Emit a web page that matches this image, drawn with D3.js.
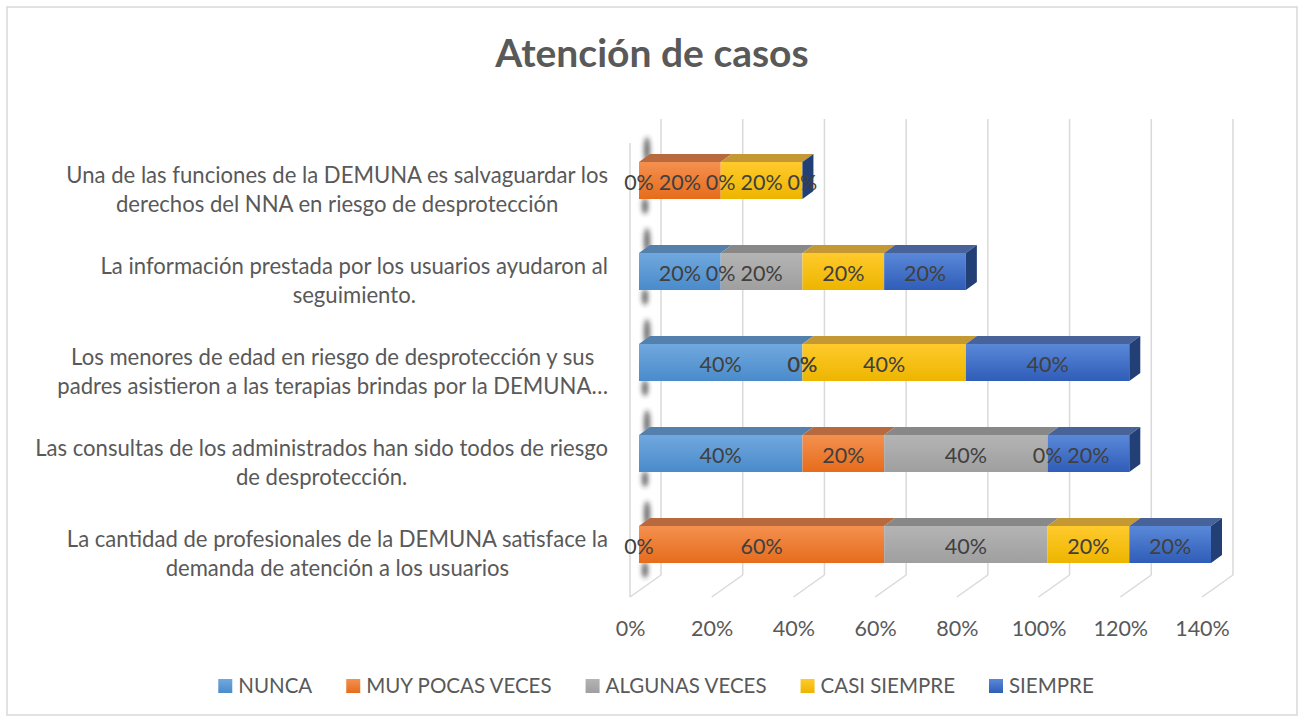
<!DOCTYPE html>
<html>
<head>
<meta charset="utf-8">
<script src="https://cdn.jsdelivr.net/npm/d3@7"></script>
<style>
  html, body { margin: 0; padding: 0; background: #fff; }
  svg { display: block; }
  text { font-family: Lato, "Open Sans", sans-serif; }
</style>
</head>
<body>
<svg id="chart" width="1303" height="719"></svg>
<script>
// ---------------- data ----------------
const title = "Atención de casos";
const categories = [
  ["Una de las funciones de la DEMUNA es salvaguardar los", "derechos del NNA en riesgo de desprotección"],
  ["La información prestada por los usuarios ayudaron al", "seguimiento."],
  ["Los menores de edad en riesgo de desprotección y sus", "padres asistieron a las terapias brindas por la DEMUNA…"],
  ["Las consultas de los administrados han sido todos de riesgo", "de desprotección."],
  ["La cantidad de profesionales de la DEMUNA satisface la", "demanda de atención a los usuarios"]
];
const seriesNames = ["NUNCA", "MUY POCAS VECES", "ALGUNAS VECES", "CASI SIEMPRE", "SIEMPRE"];
const nunca     = [0.0, 0.2, 0.4, 0.4, 0.0];
const muyPocas  = [0.2, 0.0, 0.0, 0.2, 0.6];
const algunas   = [0.0, 0.2, 0.0, 0.4, 0.4];
const casi      = [0.2, 0.2, 0.4, 0.0, 0.2];
const siempre   = [0.0, 0.2, 0.4, 0.2, 0.2];
const xTicks = [0, 0.2, 0.4, 0.6, 0.8, 1.0, 1.2, 1.4];

// ---------------- styles ----------------
const frontTop    = ["#70A8DE", "#F4904F", "#B4B4B4", "#FFCA2C", "#5A88D8"];
const frontBottom = ["#4A8BCB", "#E66C1C", "#9F9F9F", "#EDB500", "#2F5DB8"];
const topColor    = ["#5380AC", "#B8693E", "#888888", "#C49933", "#476399"];
const sideColor   = "#223F76";
const textGray = "#595959";
const labelGray = "#404040";
const gridColor = "#D9D9D9";

const svg = d3.select("#chart");
const defs = svg.append("defs");
seriesNames.forEach((s, i) => {
  const g = defs.append("linearGradient").attr("id", "grad" + i)
    .attr("x1", 0).attr("y1", 0).attr("x2", 0).attr("y2", 1);
  g.append("stop").attr("offset", "0%").attr("stop-color", frontTop[i]);
  g.append("stop").attr("offset", "100%").attr("stop-color", frontBottom[i]);
});
const blur = defs.append("filter").attr("id", "blur")
  .attr("x", "-100%").attr("y", "-50%").attr("width", "300%").attr("height", "200%");
blur.append("feGaussianBlur").attr("stdDeviation", 2.4);

// outer border
svg.append("rect").attr("x", 7).attr("y", 7).attr("width", 1290).attr("height", 708)
  .attr("fill", "#fff").attr("stroke", gridColor).attr("stroke-width", 1.5);

// title
svg.append("text").attr("x", 652).attr("y", 67).attr("text-anchor", "middle")
  .attr("font-size", 39).attr("font-weight", 700).attr("fill", textGray).text(title);

// ---------------- scales ----------------
const x = d3.scaleLinear().domain([0, 1.4]).range([630, 1202]);   // front floor plane
const backDX = 31, backDY = -22;      // wall depth offset
const barDX = 9;                      // front face of bars relative to front plane
const depthDX = 11, depthDY = -8;     // bar depth
const floorFrontY = 597, floorBackY = 575, wallTopY = 119, leftWallTopY = 143;

const y = d3.scaleBand().domain(d3.range(categories.length))
  .range([108, 617]).paddingInner(0.5934).paddingOuter(0.5934);

// ---------------- walls / grid ----------------
const grid = svg.append("g").attr("stroke", gridColor).attr("stroke-width", 1.5).attr("fill", "none");
grid.selectAll("line.back").data(xTicks).join("line").attr("class", "back")
  .attr("x1", d => x(d) + backDX).attr("x2", d => x(d) + backDX)
  .attr("y1", wallTopY).attr("y2", floorBackY);
grid.selectAll("line.floor").data(xTicks).join("line").attr("class", "floor")
  .attr("x1", d => x(d)).attr("y1", floorFrontY)
  .attr("x2", d => x(d) + backDX).attr("y2", floorBackY);
grid.append("line").attr("x1", x(0)).attr("x2", x(0)).attr("y1", leftWallTopY).attr("y2", floorFrontY);

// x axis labels
const axis = d3.axisBottom(x).tickValues(xTicks).tickFormat(d3.format(".0%")).tickSize(0);
const axG = svg.append("g").attr("transform", `translate(0,${636})`).call(axis);
axG.select(".domain").remove();
axG.selectAll("text").attr("y", 0).attr("dy", 0)
  .attr("font-family", "Lato, sans-serif").attr("font-size", 21.5).attr("fill", textGray);

// ---------------- bars ----------------
const table = categories.map((c, i) => ({
  idx: i, values: [nunca[i], muyPocas[i], algunas[i], casi[i], siempre[i]]
}));
const stack = d3.stack().keys(d3.range(5)).value((d, k) => d.values[k]);
const stacked = stack(table);

const bars = svg.append("g");
// shadow smudges near the left end
table.forEach(d => {
  const top = y(d.idx), bot = top + y.bandwidth();
  bars.append("ellipse").attr("cx", x(0) + barDX + 8).attr("cy", top - 12).attr("rx", 3).attr("ry", 13)
    .attr("fill", "#222").attr("opacity", 0.7).attr("filter", "url(#blur)");
  bars.append("ellipse").attr("cx", x(0) + barDX + 6).attr("cy", bot + 7).attr("rx", 3).attr("ry", 8)
    .attr("fill", "#222").attr("opacity", 0.7).attr("filter", "url(#blur)");
});

stacked.forEach((layer, si) => {
  layer.forEach((seg, ri) => {
    const x0 = x(seg[0]) + barDX, x1 = x(seg[1]) + barDX;
    const top = y(ri), bot = top + y.bandwidth();
    if (x1 > x0) {
      bars.append("rect").attr("x", x0).attr("y", top).attr("width", x1 - x0).attr("height", bot - top)
        .attr("fill", `url(#grad${si})`);
      bars.append("path")
        .attr("d", `M${x0},${top}L${x1},${top}L${x1 + depthDX},${top + depthDY}L${x0 + depthDX},${top + depthDY}Z`)
        .attr("fill", topColor[si]);
    }
    if (si === stacked.length - 1) {
      bars.append("path")
        .attr("d", `M${x1},${top}L${x1 + depthDX},${top + depthDY}L${x1 + depthDX},${bot + depthDY}L${x1},${bot}Z`)
        .attr("fill", sideColor);
    }
  });
});

// data labels
const lab = svg.append("g").attr("font-size", 21.5).attr("fill", labelGray).attr("text-anchor", "middle");
stacked.forEach((layer, si) => {
  layer.forEach((seg, ri) => {
    const cx = (x(seg[0]) + x(seg[1])) / 2 + barDX;
    lab.append("text").attr("x", cx).attr("y", y(ri) + 28.5)
      .text(d3.format(".0%")(seg[1] - seg[0]));
  });
});

// category labels (right aligned block, centred lines)
const catG = svg.append("g").attr("font-size", 22.1).attr("fill", textGray).attr("text-anchor", "middle");
const blockRight = 608;
categories.forEach((lines, i) => {
  const g = catG.append("g");
  const texts = lines.map((ln, j) => g.append("text").attr("y", y(i) + 21 + j * 29).text(ln));
  const w = d3.max(texts, t => t.node().getComputedTextLength());
  texts.forEach(t => t.attr("x", blockRight - w / 2));
});

// legend
const legG = svg.append("g").attr("font-size", 20.5).attr("fill", textGray);
let lx = 0;
seriesNames.forEach((s, i) => {
  const it = legG.append("g").attr("transform", `translate(${lx},0)`);
  it.append("rect").attr("x", 0).attr("y", 679).attr("width", 14).attr("height", 14).attr("fill", `url(#grad${i})`);
  const t = it.append("text").attr("x", 20).attr("y", 693).text(s);
  lx += 20 + t.node().getComputedTextLength() + 34;
});
const legW = lx - 34;
legG.attr("transform", `translate(${656 - legW / 2},0)`);
</script>
</body>
</html>
